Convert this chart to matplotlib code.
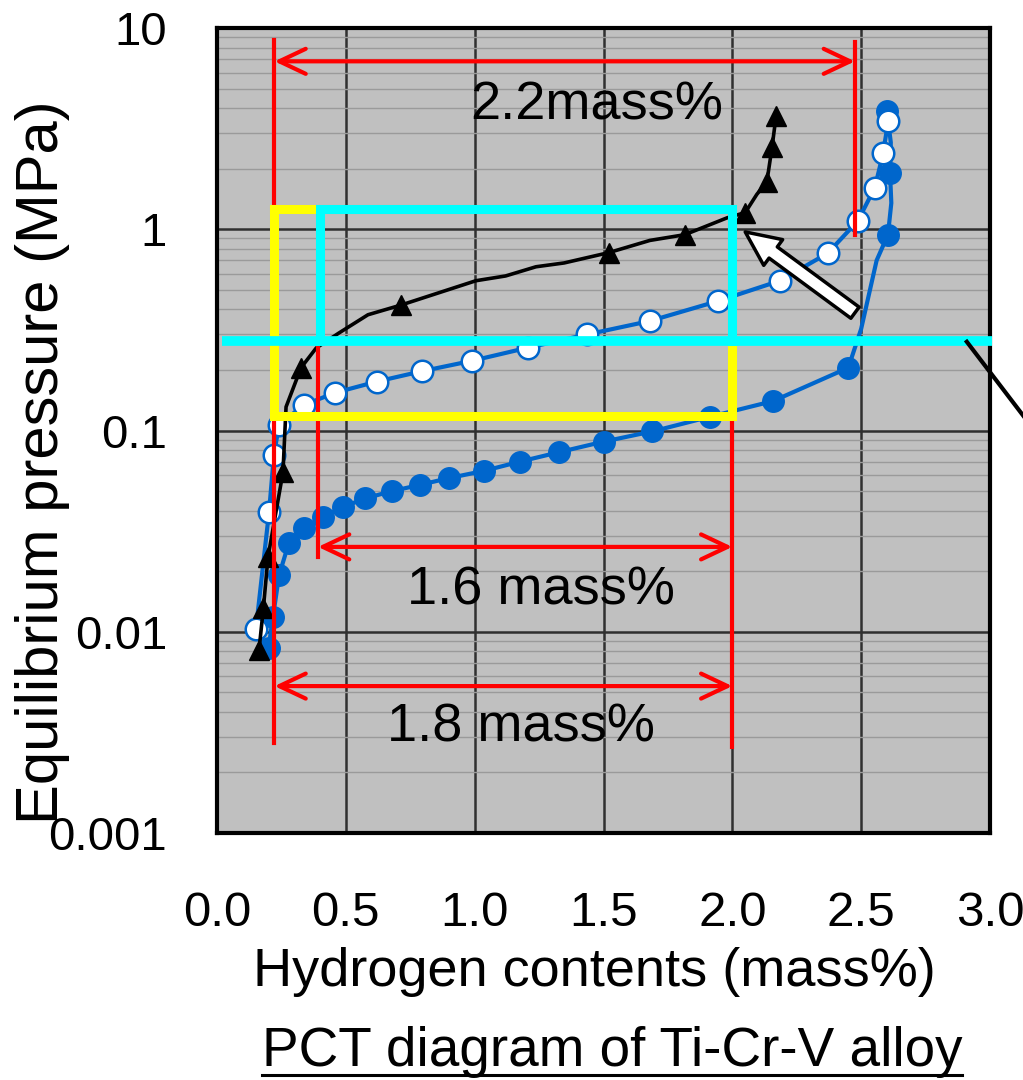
import matplotlib
matplotlib.use("Agg")
import matplotlib.pyplot as plt
from matplotlib.patches import FancyArrowPatch
from matplotlib.ticker import FixedLocator, FixedFormatter, LogLocator, NullFormatter
from matplotlib.lines import Line2D

plt.rcParams['font.family'] = ['Liberation Sans', 'DejaVu Sans']

# ---------------- data ----------------
# black triangles series (line vertices; markers on a subset)
tri_x = [0.163, 0.18, 0.198, 0.256, 0.268, 0.326, 0.385, 0.473, 0.586, 0.714,
         1.005, 1.12, 1.238, 1.347, 1.52, 1.68, 1.816, 1.98, 2.05, 2.095,
         2.134, 2.154, 2.17]
tri_y = [0.0081, 0.0131, 0.0235, 0.062, 0.131, 0.205, 0.257, 0.305, 0.376, 0.42,
         0.555, 0.586, 0.651, 0.68, 0.765, 0.88, 0.94, 1.14, 1.21, 1.49,
         1.72, 2.55, 3.67]
tri_marked = [0, 1, 2, 3, 5, 9, 14, 16, 18, 20, 21, 22]

# open circles series
open_x = [0.151, 0.202, 0.221, 0.241, 0.338, 0.458, 0.62, 0.795, 0.99, 1.207,
          1.436, 1.68, 1.945, 2.185, 2.37, 2.487, 2.553, 2.585, 2.605]
open_y = [0.0103, 0.0394, 0.0757, 0.107, 0.134, 0.154, 0.175, 0.197, 0.222, 0.258,
          0.30, 0.35, 0.44, 0.555, 0.76, 1.10, 1.61, 2.38, 3.45]

# filled circles series (line vertices; markers on a subset)
fill_x = [0.20, 0.217, 0.241, 0.279, 0.338, 0.41, 0.49, 0.575, 0.68, 0.788,
          0.90, 1.036, 1.175, 1.327, 1.50, 1.69, 1.913, 2.158, 2.45, 2.50,
          2.56, 2.604, 2.617, 2.612, 2.615, 2.60]
fill_y = [0.0083, 0.0118, 0.0191, 0.0277, 0.0327, 0.0372, 0.0417, 0.046, 0.050, 0.0537,
          0.058, 0.063, 0.070, 0.078, 0.088, 0.099, 0.117, 0.14, 0.205, 0.32,
          0.70, 0.94, 1.35, 1.91, 2.7, 3.85]
fill_marked = [0, 1, 2, 3, 4, 5, 6, 7, 8, 9, 10, 11, 12, 13, 14, 15, 16, 17, 18,
               21, 23, 25]

x_ticks = [0.0, 0.5, 1.0, 1.5, 2.0, 2.5, 3.0]
x_ticklabels = ["0.0", "0.5", "1.0", "1.5", "2.0", "2.5", "3.0"]
y_ticks = [0.001, 0.01, 0.1, 1, 10]
y_ticklabels = ["0.001", "0.01", "0.1", "1", "10"]

# annotation geometry values (mass%, MPa)
x_left = 0.223
x_cyan_left = 0.40
x_mid = 2.0
x_right22 = 2.476
y_box_top = 1.257
y_yellow_bot = 0.1174
y_cyan_line = 0.2785
y_arrow22 = 6.83
y_arrow16 = 0.0264
y_arrow18 = 0.00537

# ---------------- figure ----------------
fig = plt.figure(figsize=(10.23, 10.80), dpi=100)
ax = fig.add_axes([217/1023, 1-833/1080, (990-217)/1023, (833-28)/1080])
ax.set_facecolor('#C0C0C0')
ax.set_yscale('log')
ax.set_xlim(0, 3.0)
ax.set_ylim(0.001, 10)

ax.xaxis.set_major_locator(FixedLocator(x_ticks))
ax.xaxis.set_major_formatter(FixedFormatter(x_ticklabels))
ax.yaxis.set_major_locator(FixedLocator(y_ticks))
ax.yaxis.set_major_formatter(FixedFormatter(y_ticklabels))
ax.yaxis.set_minor_locator(LogLocator(base=10, subs=[2, 3, 4, 5, 6, 7, 8, 9]))
ax.yaxis.set_minor_formatter(NullFormatter())

ax.grid(True, which='major', color='#303030', lw=1.8, zorder=0)
ax.grid(True, which='minor', axis='y', color='#9a9a9a', lw=1.0, zorder=0)
ax.set_axisbelow(True)

ax.tick_params(axis='both', which='both', length=0)
ax.tick_params(axis='x', labelsize=35.5, pad=42)
ax.tick_params(axis='y', labelsize=34, pad=36)
for s in ax.spines.values():
    s.set_linewidth(3)
    s.set_color('black')

blue = '#0066CC'
# series
ax.plot(fill_x, fill_y, '-', color=blue, lw=3.0, marker='o', ms=15.5,
        mfc=blue, mec=blue, markevery=fill_marked, zorder=2)
ax.plot(open_x, open_y, '-', color=blue, lw=3.0, marker='o', ms=15.5,
        mfc='white', mec=blue, mew=1.8, zorder=2.1)
ax.plot(tri_x, tri_y, '-', color='black', lw=2.6, marker='^', ms=14,
        mfc='black', mec='black', markevery=tri_marked, zorder=2.2)

red = '#FF0000'
# red vertical guide lines
ax.plot([x_left, x_left], [8.7, 0.0028], color=red, lw=3, zorder=3)
ax.plot([x_right22, x_right22], [8.5, 0.94], color=red, lw=3, zorder=3)
ax.plot([0.392, 0.392], [0.264, 0.0236], color=red, lw=3, zorder=3)
ax.plot([x_mid, x_mid], [0.11, 0.00266], color=red, lw=3, zorder=3)

# red double arrows
for (xa, xb, yy) in [(x_left, x_right22, y_arrow22), (0.392, x_mid, y_arrow16),
                     (x_left, x_mid, y_arrow18)]:
    ax.annotate('', xy=(xb, yy), xytext=(xa, yy),
                arrowprops=dict(arrowstyle='<->,head_length=0.95,head_width=0.45',
                                color=red, lw=3, shrinkA=0, shrinkB=0,
                                mutation_scale=20),
                zorder=3)

# yellow rectangle
ax.plot([x_left, x_mid, x_mid, x_left, x_left],
        [y_box_top, y_box_top, y_yellow_bot, y_yellow_bot, y_box_top],
        color='#FFFF00', lw=6.5, solid_joinstyle='miter', zorder=4)
# cyan rectangle + horizontal line
ax.plot([x_cyan_left, x_cyan_left, x_mid, x_mid],
        [y_cyan_line, y_box_top, y_box_top, y_cyan_line],
        color='#00FFFF', lw=6.5, solid_joinstyle='miter', zorder=5)
ax.plot([0.02, 3.008], [y_cyan_line, y_cyan_line], color='#00FFFF', lw=7,
        solid_capstyle='butt', zorder=5, clip_on=False)

# black diagonal leader going off the right edge
ax.plot([2.91, 3.13], [0.276, 0.118], color='black', lw=3, zorder=6, clip_on=False)

# white block arrow
arr = FancyArrowPatch(posA=(2.476, 0.385), posB=(2.05, 0.97),
                      arrowstyle='simple,head_length=25,head_width=23,tail_width=10',
                      mutation_scale=1, fc='white', ec='black', lw=2.5,
                      shrinkA=0, shrinkB=0, zorder=6)
ax.add_patch(arr)

# texts
ax.text(1.475, 3.51, '2.2mass%', fontsize=39, ha='center', va='baseline', zorder=7)
ax.text(1.257, 0.0136, '1.6 mass%', fontsize=39, ha='center', va='baseline', zorder=7)
ax.text(1.18, 0.00286, '1.8 mass%', fontsize=39, ha='center', va='baseline', zorder=7)

# axis labels
fig.text(43/1023, 1-462/1080, 'Equilibrium pressure (MPa)', rotation=90,
         fontsize=43, ha='center', va='center')
fig.text(594/1023, 1-972/1080, 'Hydrogen contents (mass%)', fontsize=39,
         ha='center', va='center')
t = fig.text(612/1023, 1-1052/1080, 'PCT diagram of Ti-Cr-V alloy', fontsize=39.5,
             ha='center', va='center')

# underline the caption
fig.canvas.draw()
bb = t.get_window_extent(fig.canvas.get_renderer())
W, H = fig.bbox.width, fig.bbox.height
uy = (1080 - 1075) / 1080
fig.add_artist(Line2D([bb.x0 / W, bb.x1 / W], [uy, uy], color='black', lw=2.2,
                      transform=fig.transFigure))

fig.savefig('out.png', dpi=100)
